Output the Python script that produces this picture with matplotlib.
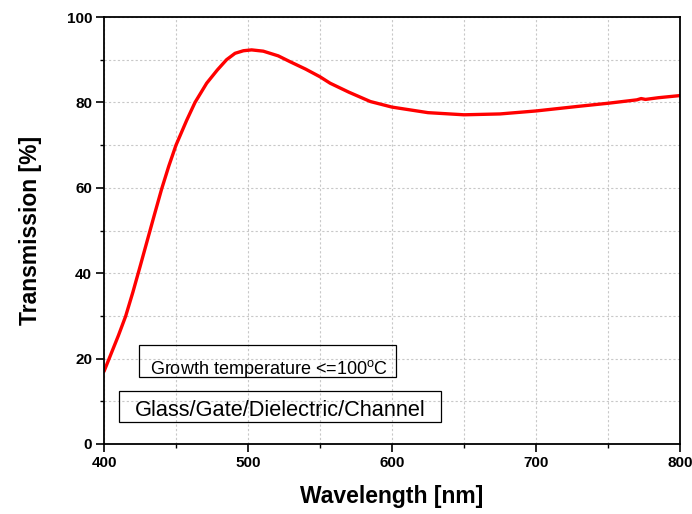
import numpy as np
import matplotlib
matplotlib.use('Agg')
import matplotlib.pyplot as plt
from matplotlib.patches import Rectangle
from matplotlib.ticker import MultipleLocator

plt.rcParams['font.family'] = ['Liberation Sans', 'DejaVu Sans']
plt.rcParams['mathtext.fontset'] = 'custom'
plt.rcParams['mathtext.rm'] = 'Liberation Sans'

# transmission spectrum of the stack (wavelength in nm, transmission in %)
wavelength = [400, 405, 410, 415, 420, 425, 430, 435, 440, 445,
              450, 457.4, 463.2, 471.3, 478.7, 485.1, 491, 496.8, 502.5,
              510.6, 521, 530, 540, 550, 557, 570, 585, 600, 625,
              650, 675, 700, 730, 750, 770, 773, 776, 785, 800]
transmission = [17.0, 21.2, 25.4, 29.9, 35.5, 41.5, 47.6, 53.7, 59.7, 65.1,
                70.0, 75.8, 80, 84.5, 87.6, 90, 91.5, 92.1, 92.3,
                92.0, 90.9, 89.4, 87.8, 86.0, 84.5, 82.4, 80.2, 78.9, 77.6,
                77.1, 77.3, 78.0, 79.1, 79.8, 80.6, 80.9, 80.7, 81.1, 81.6]

x_ticks = [400, 500, 600, 700, 800]
y_ticks = [0, 20, 40, 60, 80, 100]

fig = plt.figure(figsize=(6.92, 5.14), dpi=100)
ax = fig.add_axes([0.1503, 0.1362, 0.8324, 0.8307])

ax.plot(wavelength, transmission, color='red', lw=2.4,
        solid_capstyle='round', solid_joinstyle='round')

ax.set_xlim(400, 800)
ax.set_ylim(0, 100)
ax.set_xticks(x_ticks)
ax.set_yticks(y_ticks)
ax.xaxis.set_minor_locator(MultipleLocator(50))
ax.yaxis.set_minor_locator(MultipleLocator(10))

ax.grid(which='both', color='#c8c8c8', linestyle=(0, (2, 2)), lw=0.8)
ax.set_axisbelow(True)

ax.tick_params(which='major', direction='out', length=5.5, width=1.2,
               top=False, right=False, labelsize=11, pad=3)
ax.tick_params(which='minor', direction='out', length=3, width=1.0,
               top=False, right=False)
for lbl in ax.get_xticklabels() + ax.get_yticklabels():
    lbl.set_fontweight('bold')
for sp in ax.spines.values():
    sp.set_linewidth(1.3)

ax.set_xlabel('Wavelength [nm]', fontsize=16.5, fontweight='bold', labelpad=11)
ax.set_ylabel('Transmission [%]', fontsize=16.5, fontweight='bold', labelpad=18)

# annotation boxes
fig.add_artist(Rectangle((139 / 692, 1 - 377 / 514), 257 / 692, 31.6 / 514,
                         transform=fig.transFigure, fill=False, ec='black', lw=0.9))
fig.text(150 / 692, 1 - 374 / 514, r'Growth temperature <=100$^{\mathrm{o}}$C',
         fontsize=13, ha='left', va='baseline')

fig.add_artist(Rectangle((119 / 692, 1 - 422.3 / 514), 322 / 692, 31.6 / 514,
                         transform=fig.transFigure, fill=False, ec='black', lw=0.9))
fig.text(280 / 692, 1 - 416 / 514, 'Glass/Gate/Dielectric/Channel',
         fontsize=15.7, ha='center', va='baseline')

fig.savefig('out.png', dpi=100)
